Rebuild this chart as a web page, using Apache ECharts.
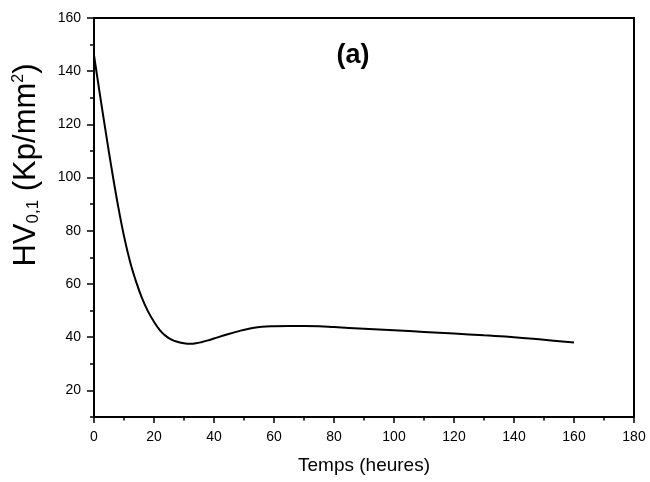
<!DOCTYPE html>
<html>
<head>
<meta charset="utf-8">
<script src="https://cdn.jsdelivr.net/npm/echarts@6/dist/echarts.min.js"></script>
<style>
html,body{margin:0;padding:0;background:#fff;}
#chart{width:650px;height:482px;}
</style>
</head>
<body>
<div id="chart"></div>
<script>
// Data
var hours = [0, 2, 4, 6, 8, 10, 12, 14, 16, 18, 20, 22, 24, 26, 28, 30, 32, 34, 36, 38, 40, 44, 48, 52, 56, 60, 65, 70, 75, 80, 90, 100, 110, 120, 130, 140, 150, 160];
var hardness = [146, 131, 116.5, 102.5, 89.5, 78, 68.5, 61, 54.7, 49.7, 45.8, 42.6, 40.4, 39, 38.2, 37.7, 37.5, 37.7, 38.2, 38.8, 39.5, 40.9, 42.2, 43.3, 43.9, 44.1, 44.2, 44.2, 44.1, 43.8, 43.2, 42.6, 42.0, 41.4, 40.7, 40.0, 39.0, 38.0];
var xMajorTicks = [0, 20, 40, 60, 80, 100, 120, 140, 160, 180];
var xMinorTicks = [10, 30, 50, 70, 90, 110, 130, 150, 170];
var yMajorTicks = [20, 40, 60, 80, 100, 120, 140, 160];
var yMinorTicks = [10, 30, 50, 70, 90, 110, 130, 150];
var xTitle = 'Temps (heures)';
var panelLabel = '(a)';

var seriesData = hours.map(function (h, i) { return [h, hardness[i]]; });

var chart = echarts.init(document.getElementById('chart'), null, {renderer: 'canvas'});
var FONT = 'Liberation Sans, Arial, sans-serif';

chart.setOption({
  animation: false,
  backgroundColor: '#fff',
  grid: {
    left: 94, right: 16, top: 18, bottom: 65,
    show: true, borderColor: '#000', borderWidth: 2, backgroundColor: 'transparent'
  },
  xAxis: [{
    type: 'value', min: 0, max: 180,
    name: xTitle, nameLocation: 'middle', nameGap: 39,
    nameTextStyle: {fontFamily: FONT, fontSize: 19, color: '#000', lineHeight: 19},
    axisLine: {show: true, lineStyle: {color: '#000', width: 2}},
    axisTick: {show: true, inside: false, length: 6, customValues: xMajorTicks, lineStyle: {color: '#000', width: 1.5}},
    axisLabel: {show: true, margin: 13, fontFamily: FONT, fontSize: 14, color: '#000', customValues: xMajorTicks},
    splitLine: {show: false}
  }, {
    type: 'value', min: 0, max: 180, position: 'bottom',
    axisLine: {show: false},
    axisTick: {show: true, inside: false, length: 3.5, customValues: xMinorTicks, lineStyle: {color: '#000', width: 1.5}},
    axisLabel: {show: false},
    splitLine: {show: false}
  }],
  yAxis: [{
    type: 'value', min: 10, max: 160,
    axisLine: {show: true, lineStyle: {color: '#000', width: 2}},
    axisTick: {show: true, inside: false, length: 7, customValues: yMajorTicks, lineStyle: {color: '#000', width: 1.5}},
    axisLabel: {show: true, margin: 13, fontFamily: FONT, fontSize: 14, color: '#000', customValues: yMajorTicks},
    splitLine: {show: false}
  }, {
    type: 'value', min: 10, max: 160, position: 'left',
    axisLine: {show: false},
    axisTick: {show: true, inside: false, length: 4, customValues: yMinorTicks, lineStyle: {color: '#000', width: 1.5}},
    axisLabel: {show: false},
    splitLine: {show: false}
  }],
  series: [{
    type: 'line',
    xAxisIndex: 0, yAxisIndex: 0,
    data: seriesData,
    smooth: 0.4,
    symbol: 'none',
    lineStyle: {color: '#000', width: 2},
    z: 3
  }],
  graphic: [{
    type: 'text',
    x: 26, y: 165,
    rotation: Math.PI / 2,
    style: {
      text: '{m|HV}{sub|0,1}{m| (Kp/mm}{sup|2}{m|)}',
      align: 'center', verticalAlign: 'middle',
      fill: '#000',
      rich: {
        m: {fontFamily: FONT, fontSize: 31, lineHeight: 31, fill: '#000'},
        sub: {fontFamily: FONT, fontSize: 17, lineHeight: 20, verticalAlign: 'bottom', fill: '#000'},
        sup: {fontFamily: FONT, fontSize: 16, lineHeight: 9, verticalAlign: 'top', fill: '#000'}
      }
    }
  }, {
    type: 'text',
    x: 353, y: 55.5,
    style: {
      text: panelLabel,
      align: 'center', verticalAlign: 'middle',
      fontFamily: FONT, fontSize: 27, fontWeight: 'bold', fill: '#000'
    }
  }]
});
</script>
</body>
</html>
